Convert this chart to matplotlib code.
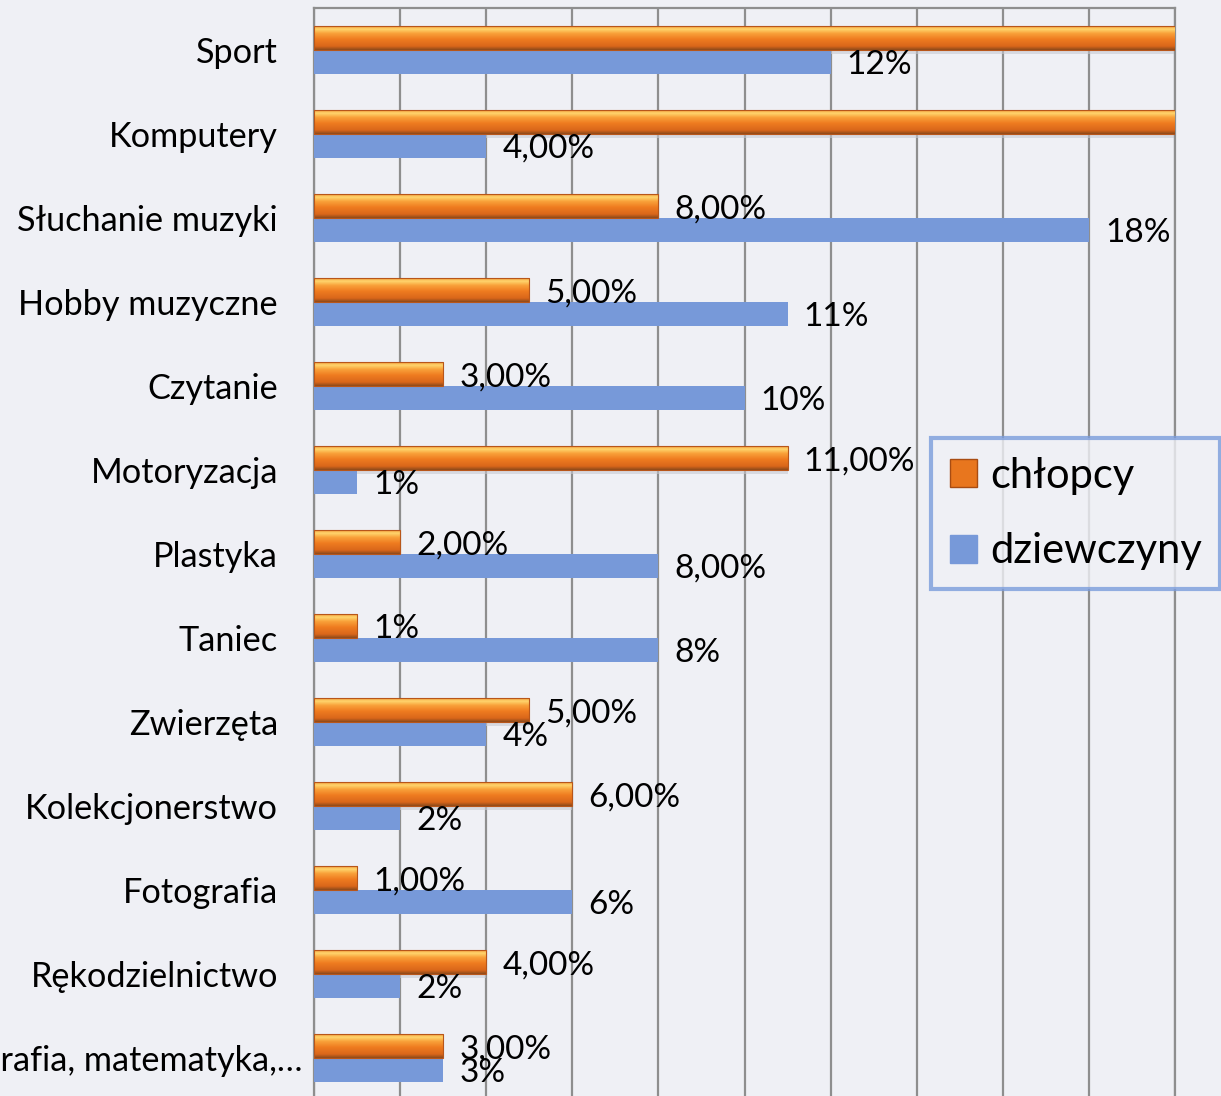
import numpy as np
import matplotlib.pyplot as plt
import matplotlib.transforms as mtransforms
from matplotlib.colors import LinearSegmentedColormap
from matplotlib.patches import Patch, Rectangle

# dane (%)
categories = ["Sport", "Komputery", "Słuchanie muzyki", "Hobby muzyczne", "Czytanie",
              "Motoryzacja", "Plastyka", "Taniec", "Zwierzęta", "Kolekcjonerstwo",
              "Fotografia", "Rękodzielnictwo", "Geografia, matematyka,…"]
chlopcy = [24, 22, 8, 5, 3, 11, 2, 1, 5, 6, 1, 4, 3]
dziewczyny = [12, 4, 18, 11, 10, 1, 8, 8, 4, 2, 6, 2, 3]
chlopcy_labels = ["", "", "8,00%", "5,00%", "3,00%", "11,00%", "2,00%", "1%",
                  "5,00%", "6,00%", "1,00%", "4,00%", "3,00%"]
dziewczyny_labels = ["12%", "4,00%", "18%", "11%", "10%", "1%", "8,00%", "8%",
                     "4%", "2%", "6%", "2%", "3%"]

BG = "#EFF0F5"
BLUE = "#7799D9"
GRID = "#8E8E8E"
XMAX = 20
BAR_H = 0.28

plt.rcParams['font.family'] = ['Lato', 'DejaVu Sans']

fig = plt.figure(figsize=(12.21, 10.96), dpi=100, facecolor=BG)
ax = fig.add_axes([314 / 1221, -4 / 1096, 861 / 1221, 1092 / 1096], facecolor=BG)

n = len(categories)
y = np.arange(n)[::-1]

# pomaranczowy gradient (efekt 3D)
orange_cmap = LinearSegmentedColormap.from_list("orange3d", [
    (0.0, "#F39A38"), (0.12, "#FFD66E"), (0.3, "#F9A23A"), (0.55, "#EF7B20"),
    (0.85, "#D9661A"), (1.0, "#8C4A1A")])
grad = np.linspace(0, 1, 64).reshape(-1, 1)

for yi, v in zip(y, chlopcy):
    # cien pod slupkiem
    ax.add_patch(Rectangle((0, yi - 0.05), v, 0.05, fc="#C8CAD2", ec="none",
                           alpha=0.6, zorder=2.5))
    ax.imshow(grad, extent=(0, v, yi, yi + BAR_H), origin="upper", aspect="auto",
              cmap=orange_cmap, zorder=3, interpolation="bilinear")
    ax.add_patch(Rectangle((0, yi), v, BAR_H, fc="none", ec="#B8561A", lw=0.8,
                           zorder=3.2))

ax.barh(y - BAR_H / 2, dziewczyny, height=BAR_H, color=BLUE, zorder=3)

for yi, v, lab in zip(y, chlopcy, chlopcy_labels):
    if lab and v < XMAX:
        ax.annotate(lab, (v, yi + BAR_H / 2), xytext=(11.5, -2.2), textcoords="offset points",
                    va="center", ha="left", fontsize=24, color="black", zorder=5)
for yi, v, lab in zip(y, dziewczyny, dziewczyny_labels):
    ax.annotate(lab, (v, yi - BAR_H / 2), xytext=(11.5, -2.2), textcoords="offset points",
                va="center", ha="left", fontsize=24, color="black", zorder=5)

ax.set_xlim(0, XMAX)
ax.set_ylim(-0.5, n - 0.5)
ax.set_xticks(np.arange(0, XMAX + 1, 2))
ax.set_xticklabels([])
ax.set_yticks(y)
ax.set_yticklabels(categories, fontsize=24.7)
ax.tick_params(axis="both", length=0, pad=26)
# obciety ostatni opis (Excel przesuwa go w prawo)
last = ax.get_yticklabels()[-1]
last.set_transform(last.get_transform() +
                   mtransforms.ScaledTranslation(0.25, 0, fig.dpi_scale_trans))
ax.grid(axis="x", color=GRID, lw=1.6, zorder=1)
for s in ax.spines.values():
    s.set_color(GRID)
    s.set_linewidth(1.6)
ax.spines["bottom"].set_visible(False)

handles = [Patch(fc="#E8761E", ec="#A84C12", lw=1), Patch(fc=BLUE, ec=BLUE)]
leg = fig.legend(handles, ["chłopcy", "dziewczyny"], loc="upper left",
                 bbox_to_anchor=(931 / 1221, 1 - 438 / 1096), borderaxespad=0,
                 fontsize=30, frameon=True, fancybox=False, handlelength=0.65,
                 handleheight=0.65, handletextpad=0.31, labelspacing=0.9,
                 borderpad=0.45)
leg.get_frame().set_edgecolor("#7A9CDB")
leg.get_frame().set_linewidth(3)
leg.get_frame().set_facecolor(BG)

fig.savefig("out.png", dpi=100, facecolor=BG)
